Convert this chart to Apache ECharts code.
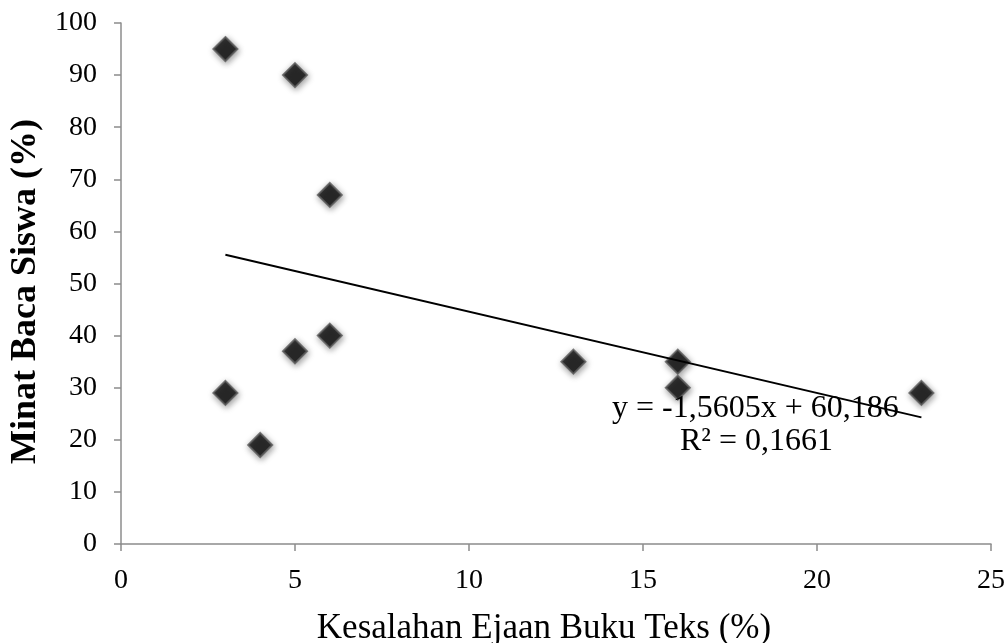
<!DOCTYPE html>
<html>
<head>
<meta charset="utf-8">
<script src="https://cdn.jsdelivr.net/npm/echarts@6/dist/echarts.min.js"></script>
<style>
html,body{margin:0;padding:0;background:#fff;}
#chart{width:1007px;height:643px;}
</style>
</head>
<body>
<div id="chart"></div>
<script>
const xValues = [3, 5, 6, 6, 5, 3, 4, 13, 16, 16, 23];
const yValues = [95, 90, 67, 40, 37, 29, 19, 35, 35, 30, 29];
const trendX = [3, 23];
const trendY = [55.5, 24.3];
const xTitle = 'Kesalahan Ejaan Buku Teks (%)';
const yTitle = 'Minat Baca Siswa (%)';
const eqLines = ['y = -1,5605x + 60,186', 'R² = 0,1661'];

const FONT = '"Liberation Serif", "Times New Roman", serif';
const points = xValues.map((x, i) => [x, yValues[i]]);
const trend = trendX.map((x, i) => [x, trendY[i]]);

const chart = echarts.init(document.getElementById('chart'));
chart.setOption({
  animation: false,
  backgroundColor: '#fff',
  grid: {left: 121, right: 16, top: 23, bottom: 99, containLabel: false, outerBoundsMode: 'none'},
  xAxis: {
    type: 'value', min: 0, max: 25, interval: 5,
    name: xTitle, nameLocation: 'middle', nameGap: 67,
    nameTextStyle: {fontFamily: FONT, fontSize: 35, color: '#000', padding: [0, 24, 0, 0]},
    axisLine: {show: true, onZero: false, lineStyle: {color: '#8c8c8c', width: 1.5}},
    axisTick: {show: true, length: 7, lineStyle: {color: '#8c8c8c', width: 1.5}},
    axisLabel: {fontFamily: FONT, fontSize: 28, color: '#000', margin: 23},
    splitLine: {show: false}
  },
  yAxis: {
    type: 'value', min: 0, max: 100, interval: 10,
    name: yTitle, nameLocation: 'middle', nameGap: 76,
    nameTextStyle: {fontFamily: FONT, fontSize: 36, fontWeight: 'bold', color: '#000', padding: [0, 16, 0, 0]},
    axisLine: {show: true, lineStyle: {color: '#8c8c8c', width: 1.5}},
    axisTick: {show: true, length: 7, lineStyle: {color: '#8c8c8c', width: 1.5}},
    axisLabel: {fontFamily: FONT, fontSize: 28, color: '#000', margin: 24},
    splitLine: {show: false}
  },
  series: [
    {
      type: 'scatter', data: points, symbol: 'diamond', symbolSize: 24,
      itemStyle: {color: '#080808', borderColor: '#5a5a5a', borderWidth: 2,
        shadowBlur: 6, shadowColor: 'rgba(0,0,0,0.45)', shadowOffsetX: 1, shadowOffsetY: 2},
      z: 2
    },
    {
      type: 'line', data: trend, symbol: 'none', silent: true,
      lineStyle: {color: '#000', width: 2}, z: 3
    }
  ],
  graphic: [
    {type: 'text', left: 612, top: 393, z: 10,
      style: {text: eqLines[0], font: '32px ' + FONT, fill: '#000'}},
    {type: 'text', left: 680, top: 426, z: 10,
      style: {text: eqLines[1], font: '32px ' + FONT, fill: '#000'}}
  ]
});
</script>
</body>
</html>
